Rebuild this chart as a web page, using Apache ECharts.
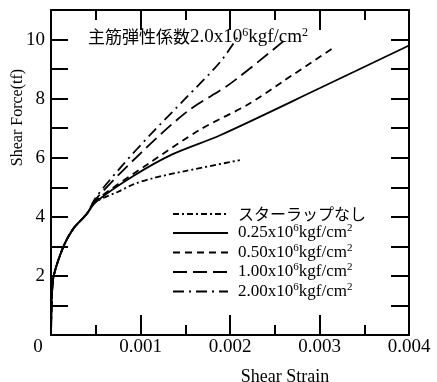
<!DOCTYPE html>
<html>
<head>
<meta charset="utf-8">
<script src="https://cdn.jsdelivr.net/npm/echarts@6/dist/echarts.min.js"></script>
<style>
html, body { margin: 0; padding: 0; background: #fff; }
#main { width: 437px; height: 382px; }
</style>
</head>
<body>
<div id="main"></div>
<script>
var legendNames = ['スターラップなし', '0.25', '0.50', '1.00', '2.00'];
var xLabels = ['0', '0.001', '0.002', '0.003', '0.004'];
var yLabels = ['2', '4', '6', '8', '10'];

// part shared by every curve
var basePart = [[0, 0], [0.00001, 1.3], [0.00003, 2.0], [0.00014, 3.0], [0.00025, 3.6], [0.0004, 4.1]];
var noStirrup = [[0.0005, 4.5], [0.00075, 4.85], [0.00092, 5.1], [0.00114, 5.31], [0.0015, 5.55], [0.00211, 5.92]];
var e025 = [[0.0005, 4.5], [0.00092, 5.38], [0.00136, 6.12], [0.00189, 6.76], [0.003, 8.35], [0.004, 9.8]];
var e050 = [[0.0005, 4.55], [0.00109, 5.8], [0.00167, 6.96], [0.0022, 7.8], [0.0026, 8.6], [0.00317, 9.75]];
var e100 = [[0.0005, 4.6], [0.001, 6.15], [0.00152, 7.56], [0.002, 8.5], [0.0026, 9.95]];
var e200 = [[0.0005, 4.65], [0.0008, 5.75], [0.00111, 6.78], [0.0015, 8.0], [0.00189, 9.24], [0.0021, 10.15]];

var serif = "'Liberation Serif', 'Noto Sans CJK JP'";
var cjk = "'Noto Sans CJK JP'";

var myChart = echarts.init(document.getElementById('main'));

var richText = {
    a: { fontFamily: serif, fontSize: 17, color: '#000', lineHeight: 20 },
    j: { fontFamily: cjk, fontSize: 16, color: '#000', lineHeight: 20 },
    s: { fontFamily: serif, fontSize: 11, color: '#000', verticalAlign: 'top', lineHeight: 12 }
};

function mkSeries(name, pts, dash) {
    return {
        name: name,
        type: 'line',
        data: basePart.concat(pts),
        symbol: 'none',
        smooth: 0.3,
        itemStyle: { color: '#000' },
        lineStyle: { color: '#000', width: 1.8, type: dash }
    };
}

var axisCommon = {
    axisLine: { onZero: false, lineStyle: { color: '#000', width: 2 } },
    splitLine: { show: false }
};

var option = {
    backgroundColor: '#fff',
    animation: false,
    title: {
        text: '{j|主筋弾性係数}{a|2.0x10}{s|6}{a|kgf/cm}{s|2}',
        left: 88,
        top: 27,
        padding: 0,
        textStyle: {
            fontWeight: 'normal',
            rich: {
                a: { fontFamily: serif, fontSize: 19, fontWeight: 'normal', color: '#000', lineHeight: 20 },
                j: { fontFamily: cjk, fontSize: 17, fontWeight: 'normal', color: '#000', lineHeight: 20 },
                s: { fontFamily: serif, fontSize: 12, fontWeight: 'normal', color: '#000', verticalAlign: 'top', lineHeight: 12 }
            }
        }
    },
    legend: {
        orient: 'vertical',
        left: 172,
        top: 206,
        padding: 0,
        itemWidth: 55,
        itemHeight: 10,
        itemGap: 1,
        itemStyle: { opacity: 0 },
        data: legendNames,
        formatter: function (name) {
            if (name === legendNames[0]) return '{j|' + name + '}';
            return '{a|' + name + 'x10}{s|6}{a|kgf/cm}{s|2}';
        },
        textStyle: { padding: [0, 0, 0, 5], rich: richText }
    },
    grid: { left: 51, right: 28, top: 10, bottom: 47, outerBoundsMode: 'none', containLabel: false },
    xAxis: [
        Object.assign({
            type: 'value', min: 0, max: 0.004, interval: 0.001,
            position: 'bottom',
            name: 'Shear Strain',
            nameLocation: 'middle',
            nameGap: 33,
            nameMoveOverlap: false,
            nameTextStyle: { fontFamily: serif, fontSize: 18, color: '#000', padding: [0, 0, 0, 110] },
            axisTick: { inside: true, length: 20, lineStyle: { color: '#000', width: 2 } },
            minorTick: { show: true, splitNumber: 2, length: 10, lineStyle: { color: '#000', width: 2 } },
            axisLabel: {
                margin: 3,
                fontFamily: serif, fontSize: 19, color: '#000',
                formatter: function (v) {
                    var i = Math.round(v / 0.001);
                    if (i === 0) return '{z|' + xLabels[0] + '}';
                    return xLabels[i];
                },
                rich: { z: { fontFamily: serif, fontSize: 19, color: '#000', padding: [0, 26, 0, 0] } }
            }
        }, axisCommon),
        Object.assign({
            type: 'value', min: 0, max: 0.004, interval: 0.001,
            position: 'top',
            axisTick: { inside: true, length: 20, lineStyle: { color: '#000', width: 2 } },
            minorTick: { show: true, splitNumber: 2, length: 10, lineStyle: { color: '#000', width: 2 } },
            axisLabel: { show: false }
        }, axisCommon)
    ],
    yAxis: [
        Object.assign({
            type: 'value', min: 0, max: 11, interval: 1,
            position: 'left',
            name: 'Shear Force(tf)',
            nameLocation: 'middle',
            nameRotate: 90,
            nameGap: 25,
            nameMoveOverlap: false,
            nameTextStyle: { fontFamily: serif, fontSize: 16, color: '#000', padding: [0, 0, 0, 110] },
            axisTick: { inside: true, length: 17, lineStyle: { color: '#000', width: 2 } },
            axisLabel: {
                margin: 6,
                fontFamily: serif, fontSize: 19, color: '#000',
                formatter: function (v) {
                    var idx = yLabels.indexOf(String(v));
                    return idx >= 0 ? yLabels[idx] : '';
                }
            }
        }, axisCommon),
        Object.assign({
            type: 'value', min: 0, max: 11, interval: 1,
            position: 'right',
            axisTick: { inside: true, length: 18, lineStyle: { color: '#000', width: 2 } },
            axisLabel: { show: false }
        }, axisCommon)
    ],
    series: [
        mkSeries(legendNames[0], noStirrup, [6, 3, 2, 3]),
        mkSeries(legendNames[1], e025, 'solid'),
        mkSeries(legendNames[2], e050, [7, 5]),
        mkSeries(legendNames[3], e100, [14, 6]),
        mkSeries(legendNames[4], e200, [11, 5, 2, 5])
    ]
};

myChart.setOption(option);
</script>
</body>
</html>
